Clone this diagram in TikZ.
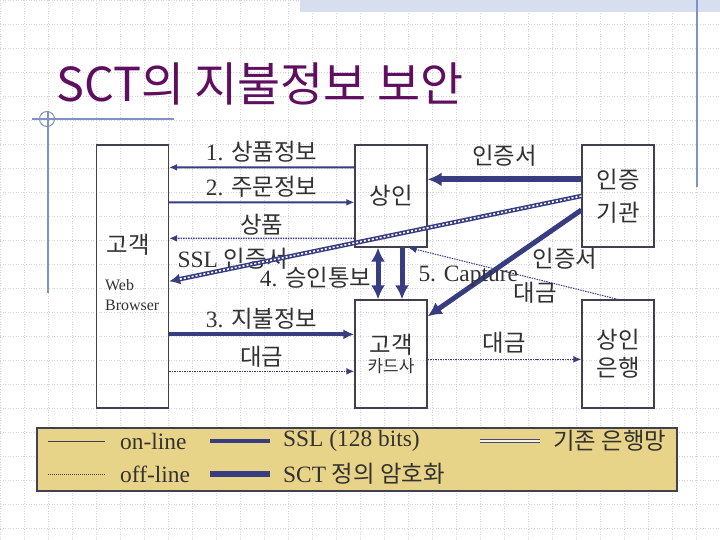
\documentclass[tikz,border=0pt]{standalone}
\usepackage{fontspec}
\setmainfont{Liberation Serif}
\newfontfamily\kr{Noto Sans CJK KR}
\usetikzlibrary{arrows.meta}
\definecolor{navy}{RGB}{56,60,128}
\definecolor{boxline}{RGB}{64,64,80}
\definecolor{titlepurple}{RGB}{96,14,96}
\definecolor{accent}{RGB}{128,146,196}
\definecolor{legendfill}{RGB}{232,212,136}
\definecolor{textgray}{RGB}{50,50,50}
\definecolor{gridgray}{RGB}{212,212,212}
\definecolor{bandblue}{RGB}{214,222,240}
\newcommand\lblfont{\fontsize{23.5}{27}\selectfont}

\tikzstyle{party} = [rectangle, draw=boxline, line width=1.3bp, minimum width=72bp, minimum height=102bp, text centered, align=center, inner sep=0, text=textgray, font=\kr\lblfont]
\tikzstyle{lbl} = [text=textgray, font=\lblfont, inner sep=2bp]
\tikzstyle{online} = [draw=navy, line width=2bp, -{Latex[length=8bp,width=7bp]}]
\tikzstyle{offline} = [draw=navy, line width=1.5bp, densely dotted, -{Latex[length=8bp,width=7bp]}]
\tikzstyle{ssl} = [draw=navy, line width=4bp, -{Latex[length=11bp,width=10bp]}]
\tikzstyle{sct} = [draw=navy, line width=5.5bp, -{Latex[length=14bp,width=14bp]}]
\tikzstyle{certline} = [draw=navy, line width=4.5bp, -{Latex[length=11bp,width=11bp]}, postaction={draw=white, -, line width=1.6bp, dash pattern=on 2bp off 2bp, shorten >=10bp}]
\tikzstyle{legendbox} = [rectangle, draw=boxline, line width=1.3bp, fill=legendfill, minimum width=640bp, minimum height=63bp]

\begin{document}
\begin{tikzpicture}[x=1bp, y=-1bp, node distance=227bp]
\useasboundingbox (0,0) rectangle (720,540);
\fill[white] (0,0) rectangle (720,540);
\draw[gridgray, line width=0.6bp, dotted, step=24bp] (0,540) grid (720,0);
\fill[bandblue] (300,0) rectangle (720,12);

% slide decoration
\draw[accent, line width=1.2bp] (32,119) -- (174,119);
\draw[accent, line width=1.2bp] (48,111) -- (48,293);
\draw[accent, line width=1bp] (47,119) circle (7.5);
\draw[accent, line width=1.2bp] (697,0) -- (697,187);

\node (title) [anchor=base west, text=titlepurple, font=\kr\fontsize{47}{54}\selectfont, inner sep=0] at (56,102) {SCT의 지불정보 보안};

% parties
\node (cust) [party, minimum height=263bp] at (132.5,276.5) {};
\node (merch) [party, right of=cust, xshift=31.5bp, yshift=80.5bp] {상인};
\node (ca) [party, right of=merch] {인증\\[6bp]기관};
\node (card) [party, below of=merch, yshift=69bp, minimum height=108bp] {고객\\[-7bp]{\fontsize{17}{20}\selectfont 카드사}};
\node (bank) [party, right of=card, minimum height=108bp] {상인\\[1bp]은행};

\node (custname) [lbl, font=\kr\lblfont, inner sep=0] at (128,245) {고객};
\node (browser) [anchor=north west, align=left, font=\fontsize{16}{20}\selectfont, text=textgray, inner sep=0] at (105,279) {Web\\Browser};

% flows
\draw [online] ([yshift=-23bp]merch.north west) -- ([yshift=-23bp]cust.north east) node[lbl, midway, above=2bp] {1. {\kr 상품정보}};
\draw [online] ([yshift=-58bp]cust.north east) -- ([yshift=-58bp]merch.north west) node[lbl, midway, above=2bp] {2. {\kr 주문정보}};
\draw [offline] ([yshift=-94bp]merch.north west) -- ([yshift=-94bp]cust.north east) node[lbl, midway, above=0bp, font=\kr\lblfont] {상품};

\node (sslcert) [lbl] at (233,259) {SSL {\kr 인증서}};
\draw [certline] (ca.west) -- ([yshift=-137bp]cust.north east);

\draw [sct, line width=6bp] ([yshift=-35bp]ca.north west) -- ([yshift=-35bp]merch.north east) node[lbl, midway, above=8bp, font=\kr\lblfont] {인증서};
\node (cert) [lbl, font=\kr\lblfont] at (565,259) {인증서};
\draw [sct, line width=5bp] ([yshift=-14bp]ca.west) -- ([yshift=-17bp]card.north east);

\node (paylbl) [lbl, font=\kr\lblfont] at (535,293) {대금};
\draw [offline, line width=1bp] (bank.north) -- ([xshift=-19bp]merch.south east);

\draw [sct, line width=5bp, {Latex[length=14bp,width=14bp]}-{Latex[length=14bp,width=14bp]}] ([xshift=-13bp]merch.south) -- ([xshift=-13bp]card.north) node[lbl, midway, left=2bp, yshift=-4.5bp] {4. {\kr 승인통보}};
\draw [sct, line width=5bp] ([xshift=11bp]merch.south) -- ([xshift=11bp]card.north) node[lbl, midway, right=12bp, yshift=-3bp] {5. Capture};

\draw [ssl] ([yshift=-190bp]cust.north east) -- ([yshift=-35bp]card.north west) node[lbl, midway, above=1bp] {3. {\kr 지불정보}};
\draw [offline] ([yshift=-227bp]cust.north east) -- ([yshift=-72bp]card.north west) node[lbl, midway, above=1bp, font=\kr\lblfont] {대금};
\draw [offline] ([yshift=-60bp]card.north east) -- ([yshift=-60bp]bank.north west) node[lbl, midway, above=3bp, font=\kr\lblfont] {대금};

% legend
\node (legend) [legendbox] at (357,459.5) {};
\draw[boxline, line width=1bp] (48,441) -- (105,441);
\draw[boxline, line width=1bp, densely dotted] (48,474) -- (105,474);
\draw[navy, line width=4bp] (210,441) -- (270,441);
\draw[navy, line width=5.5bp] (210,474) -- (270,474);
\draw[navy!80!gray, line width=1.5bp, double=legendfill!30!white, double distance=1.8bp] (480,441) -- (540,441);
\node (online) [lbl, anchor=west] at (118,441) {on-line};
\node (offline) [lbl, anchor=west] at (118,474) {off-line};
\node (ssltext) [lbl, anchor=west] at (281,441) {SSL (128 bits)};
\node (scttext) [lbl, anchor=west] at (281,474) {SCT {\kr 정의 암호화}};
\node (banknet) [lbl, anchor=west, font=\kr\lblfont] at (551,441) {기존 은행망};

\end{tikzpicture}
\end{document}
